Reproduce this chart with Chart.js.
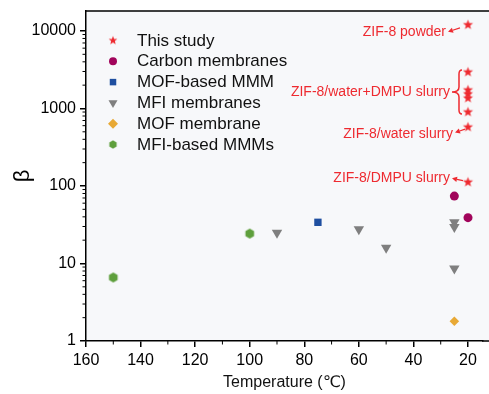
<!DOCTYPE html>
<html>
<head>
<meta charset="utf-8">
<script src="https://cdn.jsdelivr.net/npm/chart.js@4.4.0/dist/chart.umd.min.js"></script>
<style>
  html, body { margin: 0; padding: 0; background: #fff; }
</style>
</head>
<body>
<canvas id="myChart" width="489" height="394"></canvas>
<script>
// data
const studyTemp = [20, 20, 20, 20, 20, 20, 20, 20];
const studyBeta = [12000, 2950, 1730, 1540, 1360, 900, 575, 112];
const carbonTemp = [25, 20];
const carbonBeta = [74, 39];
const mofMmmTemp = [75];
const mofMmmBeta = [34];
const mfiTemp = [90, 60, 50, 25, 25, 25];
const mfiBeta = [25, 27.7, 16, 34, 29.6, 8.6];
const mofMemTemp = [25];
const mofMemBeta = [1.8];
const mfiMmmTemp = [150, 100];
const mfiMmmBeta = [6.6, 24.3];

const seriesNames = ['This study', 'Carbon membranes', 'MOF-based MMM', 'MFI membranes', 'MOF membrane', 'MFI-based MMMs'];
const xTicks = [160, 140, 120, 100, 80, 60, 40, 20];
const yTicks = [1, 10, 100, 1000, 10000];

// labels pointing at points of "This study" (index into studyBeta)
const noteLabels = ['ZIF-8 powder', 'ZIF-8/water slurry', 'ZIF-8/DMPU slurry'];
const noteIndex = [0, 6, 7];
const braceLabel = 'ZIF-8/water+DMPU slurry';
const braceFrom = 1, braceTo = 5;

const RED = '#ee2a30';
const FONT = '"Liberation Sans", Arial, "DejaVu Sans", sans-serif';

function toPoints(xs, ys) {
  return xs.map((x, i) => ({ x: x, y: ys[i] }));
}

function makeStar(r) {
  const c = document.createElement('canvas');
  const s = Math.ceil(r * 2 + 2);
  c.width = s; c.height = s;
  const g = c.getContext('2d');
  g.fillStyle = RED;
  g.beginPath();
  for (let i = 0; i < 10; i++) {
    const rr = i % 2 === 0 ? r : r * 0.42;
    const a = -Math.PI / 2 + i * Math.PI / 5;
    const px = s / 2 + rr * Math.cos(a), py = s / 2 + rr * Math.sin(a);
    if (i === 0) g.moveTo(px, py); else g.lineTo(px, py);
  }
  g.closePath();
  g.fill();
  return c;
}

function makeHex(r, color) {
  const c = document.createElement('canvas');
  const s = Math.ceil(r * 2 + 2);
  c.width = s; c.height = s;
  const g = c.getContext('2d');
  g.fillStyle = color;
  g.beginPath();
  for (let i = 0; i < 6; i++) {
    const a = -Math.PI / 2 + i * Math.PI / 3;
    const px = s / 2 + r * Math.cos(a), py = s / 2 + r * Math.sin(a);
    if (i === 0) g.moveTo(px, py); else g.lineTo(px, py);
  }
  g.closePath();
  g.fill();
  return c;
}

const starImg = makeStar(5.3);
const hexImg = makeHex(5, '#5e9f3c');
const starSmall = makeStar(4.6);
const hexSmall = makeHex(4.2, '#5e9f3c');

const datasets = [
  { label: seriesNames[0], data: toPoints(studyTemp, studyBeta), pointStyle: starImg, pointRadius: 6, backgroundColor: RED },
  { label: seriesNames[1], data: toPoints(carbonTemp, carbonBeta), pointStyle: 'circle', pointRadius: 4.5, backgroundColor: '#a1045b' },
  { label: seriesNames[2], data: toPoints(mofMmmTemp, mofMmmBeta), pointStyle: 'rect', pointRadius: 5.2, backgroundColor: '#1f4fa0' },
  { label: seriesNames[3], data: toPoints(mfiTemp, mfiBeta), pointStyle: 'triangle', pointRotation: 180, pointRadius: 6, backgroundColor: '#7f7f7f' },
  { label: seriesNames[4], data: toPoints(mofMemTemp, mofMemBeta), pointStyle: 'rectRot', pointRadius: 4.8, backgroundColor: '#e8a935' },
  { label: seriesNames[5], data: toPoints(mfiMmmTemp, mfiMmmBeta), pointStyle: hexImg, pointRadius: 5, backgroundColor: '#5e9f3c' }
];
datasets.forEach(d => { d.pointBorderWidth = 0; d.borderWidth = 0; d.showLine = false; });
const legendStyle = [starSmall, 'circle', 'rect', 'triangle', 'rectRot', hexSmall];
const legendRadius = [5, 4, 4.6, 5.2, 5, 4.2];

function arrow(ctx, x1, y1, x2, y2) {
  // line from (x1,y1) to (x2,y2) with head at (x2,y2)
  const a = Math.atan2(y2 - y1, x2 - x1);
  const hl = 5, hw = 2.6;
  const bx = x2 - hl * Math.cos(a), by = y2 - hl * Math.sin(a);
  ctx.beginPath();
  ctx.moveTo(x1, y1);
  ctx.lineTo(bx, by);
  ctx.stroke();
  ctx.beginPath();
  ctx.moveTo(x2, y2);
  ctx.lineTo(bx + hw * Math.sin(a), by - hw * Math.cos(a));
  ctx.lineTo(bx - hw * Math.sin(a), by + hw * Math.cos(a));
  ctx.closePath();
  ctx.fill();
}

// chart.js keeps a few px free on the right; the frame is carried on to the canvas edge
const framePlugin = {
  id: 'frame',
  beforeDraw(chart) {
    const { ctx, chartArea: a } = chart;
    ctx.save();
    ctx.fillStyle = '#f7f8fa';
    ctx.fillRect(a.left, a.top, chart.width - a.left, a.bottom - a.top);
    ctx.restore();
  },
  afterDraw(chart) {
    const { ctx, chartArea: a, scales } = chart;
    ctx.save();
    ctx.strokeStyle = '#000';
    ctx.lineWidth = 1.5;
    ctx.beginPath();
    ctx.moveTo(a.left, a.top);
    ctx.lineTo(chart.width, a.top);
    ctx.moveTo(a.right - 1, a.bottom);
    ctx.lineTo(chart.width, a.bottom);
    ctx.stroke();
    // minor ticks
    ctx.lineWidth = 1;
    ctx.beginPath();
    for (let v = 30; v <= 150; v += 20) {
      const x = scales.x.getPixelForValue(v);
      ctx.moveTo(x, a.bottom);
      ctx.lineTo(x, a.bottom + 3.5);
    }
    for (let d = 0; d < 5; d++) {
      for (let m = 2; m <= 9; m++) {
        const v = m * Math.pow(10, d);
        if (v > scales.y.max) break;
        const y = scales.y.getPixelForValue(v);
        ctx.moveTo(a.left - 3.5, y);
        ctx.lineTo(a.left, y);
      }
    }
    ctx.stroke();
    ctx.restore();
  },
  afterDatasetsDraw(chart) {
    const { ctx, chartArea: a } = chart;
    ctx.save();
    // legend
    ctx.font = '17px ' + FONT;
    ctx.textBaseline = 'middle';
    ctx.textAlign = 'left';
    chart.data.datasets.forEach((ds, i) => {
      const y = a.top + 29.5 + i * 20.8;
      const x = a.left + 27;
      ctx.fillStyle = ds.backgroundColor;
      Chart.helpers.drawPoint(ctx, {
        pointStyle: legendStyle[i],
        rotation: ds.pointRotation || 0,
        radius: legendRadius[i],
        borderWidth: 0
      }, x, y);
      ctx.fillStyle = '#111';
      ctx.fillText(ds.label, a.left + 51, y + 0.5);
    });

    // annotations on "This study"
    const pts = chart.getDatasetMeta(0).data;
    ctx.fillStyle = RED;
    ctx.strokeStyle = RED;
    ctx.lineWidth = 1.2;
    ctx.font = '14px ' + FONT;
    ctx.textAlign = 'right';
    const offs = [
      { tx: -22, ty: 7, x1: -8, y1: 3, x2: -20, y2: 7 },
      { tx: -15, ty: 7, x1: -3, y1: 2, x2: -13, y2: 5.5 },
      { tx: -18, ty: -4.5, x1: -5, y1: -1.5, x2: -16, y2: -3.8 }
    ];
    noteLabels.forEach((t, k) => {
      const p = pts[noteIndex[k]];
      const o = offs[k];
      ctx.fillText(t, p.x + o.tx, p.y + o.ty);
      arrow(ctx, p.x + o.x1, p.y + o.y1, p.x + o.x2, p.y + o.y2);
    });

    // brace for the water+DMPU slurries
    const top = pts[braceFrom].y - 2, bot = pts[braceTo].y + 2;
    const mid = (top + bot) / 2;
    const xr = pts[braceFrom].x - 9, xt = xr - 7;
    ctx.lineWidth = 1.5;
    ctx.beginPath();
    ctx.moveTo(xr + 3, top);
    ctx.quadraticCurveTo(xr, top, xr, top + 4);
    ctx.lineTo(xr, mid - 5);
    ctx.quadraticCurveTo(xr, mid, xt, mid);
    ctx.quadraticCurveTo(xr, mid, xr, mid + 5);
    ctx.lineTo(xr, bot - 4);
    ctx.quadraticCurveTo(xr, bot, xr + 3, bot);
    ctx.stroke();
    ctx.fillText(braceLabel, xt - 2, mid + 0.5);
    ctx.restore();
  }
};

new Chart(document.getElementById('myChart').getContext('2d'), {
  type: 'scatter',
  data: { datasets: datasets },
  options: {
    responsive: false,
    animation: false,
    events: [],
    layout: { padding: { top: 11, right: 0, left: 0, bottom: 0 } },
    plugins: { legend: { display: false }, tooltip: { enabled: false } },
    scales: {
      x: {
        type: 'linear',
        reverse: true,
        min: 14.5,
        max: 160,
        afterBuildTicks: s => { s.ticks = xTicks.map(v => ({ value: v })); },
        afterFit: s => { s.height = 53; s.paddingLeft = 0; s.paddingRight = 0; },
        grid: { display: true, drawOnChartArea: false, drawTicks: true, tickLength: 6, color: '#000', lineWidth: 1.5 },
        border: { display: true, color: '#000', width: 1.5 },
        ticks: { color: '#000', font: { family: FONT, size: 16 }, padding: 4, maxRotation: 0 },
        title: { display: true, text: 'Temperature (℃)', color: '#111', font: { family: FONT, size: 16 }, padding: { top: 0, bottom: 2 } }
      },
      y: {
        type: 'logarithmic',
        min: 1,
        max: 18100,
        afterBuildTicks: s => { s.ticks = yTicks.map(v => ({ value: v })); },
        afterFit: s => { s.width = 86; s.paddingTop = 0; s.paddingBottom = 0; },
        grid: { display: true, drawOnChartArea: false, drawTicks: true, tickLength: 6, color: '#000', lineWidth: 1.5 },
        border: { display: true, color: '#000', width: 1.5 },
        ticks: { color: '#000', font: { family: FONT, size: 16 }, padding: 4, callback: v => String(v) },
        title: { display: true, text: 'β', color: '#000', font: { family: FONT, size: 22 }, padding: { top: 10, bottom: 0 } }
      }
    }
  },
  plugins: [framePlugin]
});
</script>
</body>
</html>
